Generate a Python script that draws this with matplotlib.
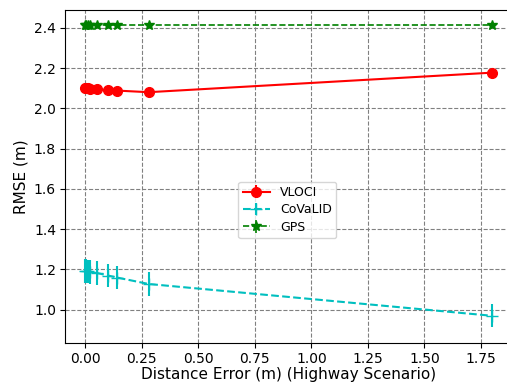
import matplotlib
matplotlib.use("Agg")
import matplotlib.pyplot as plt

# distance error (m) values used in the highway scenario
dist_err = [0.0, 0.005, 0.01, 0.02, 0.05, 0.1, 0.14, 0.28, 1.8]

vloci_rmse = [2.10, 2.10, 2.10, 2.098, 2.095, 2.09, 2.088, 2.08, 2.177]
vloci_std = [0.005, 0.005, 0.005, 0.005, 0.005, 0.005, 0.005, 0.005, 0.005]

covalid_rmse = [1.193, 1.192, 1.19, 1.188, 1.183, 1.17, 1.16, 1.128, 0.97]
covalid_std = [0.058, 0.058, 0.058, 0.058, 0.058, 0.058, 0.058, 0.058, 0.057]

gps_rmse = [2.412, 2.412, 2.412, 2.412, 2.412, 2.412, 2.412, 2.412, 2.412]
gps_std = [0.003, 0.003, 0.003, 0.003, 0.003, 0.003, 0.003, 0.003, 0.003]

fig = plt.figure(figsize=(5.07, 3.85), dpi=100)
ax = fig.add_axes([65 / 507, 1 - 343 / 385, 447.5 / 507, 333 / 385])

ax.errorbar(dist_err, vloci_rmse, yerr=vloci_std, color='r', linestyle='-',
            marker='o', markersize=7, linewidth=1.5, label='VLOCI')
ax.errorbar(dist_err, covalid_rmse, yerr=covalid_std, color='c', linestyle='--',
            marker='+', markersize=8, linewidth=1.5, label='CoVaLID')
ax.errorbar(dist_err, gps_rmse, yerr=gps_std, color='g', linestyle='--',
            marker='*', markersize=7, linewidth=1.2, label='GPS')

ax.set_xlim(-0.09, 1.89)
ax.set_ylim(0.835, 2.488)
ax.set_xticks([0.0, 0.25, 0.5, 0.75, 1.0, 1.25, 1.5, 1.75])
ax.set_yticks([1.0, 1.2, 1.4, 1.6, 1.8, 2.0, 2.2, 2.4])
ax.tick_params(labelsize=10, pad=3)
ax.set_xlabel("Distance Error (m) (Highway Scenario)", fontsize=11, labelpad=1)
ax.set_ylabel("RMSE (m)", fontsize=11)
ax.grid(True, color='gray', linestyle='--')
ax.legend(loc='center', bbox_to_anchor=(0.497, 0.4), fontsize=9,
          handlelength=2.2, borderpad=0.35, labelspacing=0.35)

plt.savefig("out.png", dpi=100)
